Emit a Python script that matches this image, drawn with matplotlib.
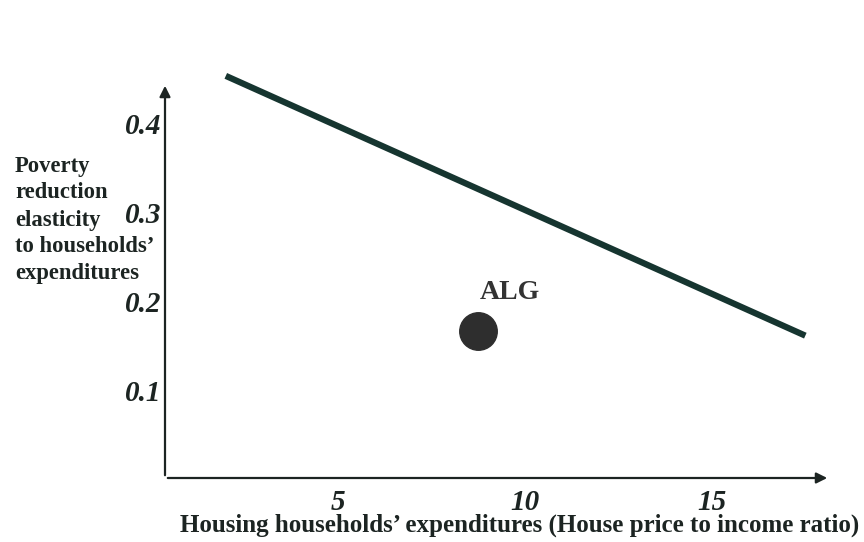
import matplotlib.pyplot as plt

# line de tendance
line_x = [2.0, 17.5]
line_y = [0.452, 0.160]

# point ALG
pt_x = [8.75]
pt_y = [0.165]
pt_label = "ALG"

xticks = [5, 10, 15]
yticks = [0.1, 0.2, 0.3, 0.4]

ylabel_lines = ["Poverty", "reduction", "elasticity", "to households\u2019", "expenditures"]
xlabel_txt = "Housing households\u2019 expenditures (House price to income ratio)"

plt.rcParams['font.family'] = ['Liberation Serif', 'DejaVu Serif']
W, H = 864, 542
fig = plt.figure(figsize=(W / 100, H / 100), dpi=100)
ax = fig.add_axes([165 / W, (H - 478) / H, (830 - 165) / W, (478 - 83) / H])
ax.set_xlim(0.374, 18.16)
ax.set_ylim(0, 0.444)
for s in ax.spines.values():
    s.set_visible(False)
ax.set_xticks([])
ax.set_yticks([])

dark = '#1c2422'
# axes avec fleches
ax.annotate('', xy=(1, 0), xytext=(0, 0), xycoords='axes fraction',
            arrowprops=dict(arrowstyle='-|>', color=dark, lw=1.6, mutation_scale=16))
ax.annotate('', xy=(0, 1), xytext=(0, 0), xycoords='axes fraction',
            arrowprops=dict(arrowstyle='-|>', color=dark, lw=1.6, mutation_scale=16))

ax.plot(line_x, line_y, color='#163530', lw=4.5, solid_capstyle='butt', clip_on=False)
ax.plot(pt_x, pt_y, 'o', color='#2e2e2e', markersize=27, clip_on=False)
ax.text(pt_x[0] + 0.85, pt_y[0] + 0.043, pt_label, fontsize=20, fontweight='bold',
        color='#333333', ha='center', va='center')

for v in xticks:
    ax.text(v, -0.027, str(v), fontsize=21, fontweight='bold', fontstyle='italic',
            color=dark, ha='center', va='center')
for v in yticks:
    ax.text(0.27, v - 0.005, '%.1f' % v, fontsize=21, fontweight='bold', fontstyle='italic',
            color=dark, ha='right', va='center')

# titre de l'axe y, une ligne a la fois
for i, t in enumerate(ylabel_lines):
    fig.text(15 / W, 1 - (166 + 27 * i) / H, t, fontsize=16.3, fontweight='bold',
             color=dark, ha='left', va='center')
fig.text(520 / W, 1 - 525 / H, xlabel_txt, fontsize=18, fontweight='bold', color=dark,
         ha='center', va='center')

fig.savefig('out.png', dpi=100, facecolor='white')
